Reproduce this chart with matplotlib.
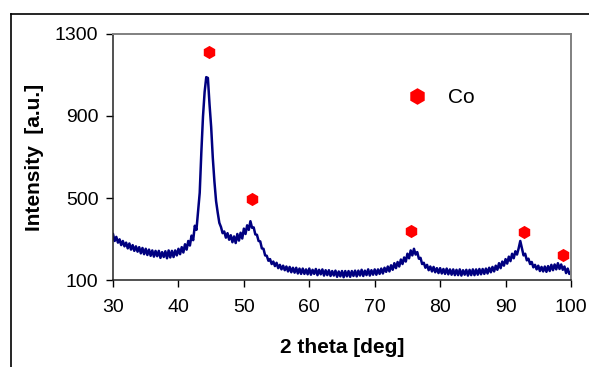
import numpy as np
import matplotlib
matplotlib.use("Agg")
import matplotlib.pyplot as plt
from matplotlib.lines import Line2D

plt.rcParams['font.family'] = ['Liberation Sans', 'DejaVu Sans']

# 2theta from 30 to 100 deg, step 0.25
two_theta_start = 30.0
two_theta_step = 0.25
intensity = [
    325, 292, 312, 284,
    300, 272, 292, 266,
    284, 256, 280, 250,
    272, 244, 266, 240,
    262, 232, 258, 228,
    254, 224, 250, 220,
    246, 216, 244, 218,
    244, 210, 238, 214,
    242, 208, 246, 212,
    244, 214, 246, 222,
    254, 228, 262, 236,
    276, 250, 292, 270,
    318, 296, 366, 346,
    436, 526, 724, 896,
    1016, 1088, 1084, 956,
    846, 696, 580, 486,
    430, 380, 360, 330,
    338, 308, 330, 298,
    320, 286, 314, 282,
    326, 294, 332, 304,
    352, 326, 368, 346,
    388, 356, 358, 324,
    322, 292, 290, 256,
    254, 222, 220, 196,
    204, 180, 192, 170,
    186, 160, 176, 154,
    172, 150, 168, 144,
    166, 140, 162, 138,
    162, 134, 158, 132,
    158, 132, 154, 130,
    158, 128, 152, 132,
    156, 126, 152, 130,
    154, 124, 150, 126,
    150, 122, 146, 124,
    148, 118, 144, 120,
    146, 116, 146, 120,
    146, 118, 146, 122,
    148, 120, 148, 124,
    152, 122, 148, 126,
    154, 124, 150, 128,
    154, 128, 154, 132,
    158, 134, 162, 142,
    168, 144, 174, 152,
    184, 160, 190, 168,
    202, 180, 212, 192,
    230, 208, 246, 222,
    254, 226, 238, 206,
    210, 180, 186, 162,
    176, 150, 168, 144,
    166, 140, 160, 136,
    160, 134, 156, 132,
    158, 130, 154, 128,
    154, 126, 152, 126,
    154, 124, 150, 128,
    152, 124, 152, 126,
    154, 126, 154, 128,
    156, 130, 156, 132,
    158, 134, 162, 140,
    166, 144, 172, 152,
    184, 160, 192, 172,
    204, 182, 216, 194,
    230, 208, 242, 226,
    256, 292, 256, 222,
    230, 198, 206, 180,
    190, 164, 176, 154,
    172, 146, 166, 144,
    168, 142, 170, 146,
    176, 150, 178, 154,
    184, 156, 178, 152,
    168, 136, 158, 132,
    140,
]
two_theta = two_theta_start + two_theta_step * np.arange(len(intensity))

# Co peak markers
co_x = [44.6, 51.3, 75.5, 92.8, 98.8]
co_y = [1210, 495, 340, 335, 225]

x_ticks = [30, 40, 50, 60, 70, 80, 90, 100]
y_ticks = [100, 500, 900, 1300]

fig = plt.figure(figsize=(5.89, 3.67), dpi=100)
ax = fig.add_axes([0.1919, 0.2357, 0.9694 - 0.1919, 0.9087 - 0.2357])

ax.plot(two_theta, intensity, color='#000080', lw=1.8)
ax.plot(co_x, co_y, linestyle='none', marker='h', color='#ff0000',
        markersize=9.5, markeredgewidth=0)

ax.set_xlim(30, 100)
ax.set_ylim(100, 1300)
ax.set_xticks(x_ticks)
ax.set_yticks(y_ticks)
ax.tick_params(axis='both', direction='out', length=5, width=1,
               labelsize=14, colors='black')
ax.tick_params(axis='x', pad=8)
ax.tick_params(axis='y', pad=5.5)

for s in ['left', 'bottom']:
    ax.spines[s].set_color('#222222')
    ax.spines[s].set_linewidth(1.1)
for s in ['top', 'right']:
    ax.spines[s].set_color('#808080')
    ax.spines[s].set_linewidth(1.4)

ax.set_xlabel('2 theta [deg]', fontsize=15, fontweight='bold', labelpad=16)
ax.set_ylabel('Intensity  [a.u.]', fontsize=15, fontweight='bold', labelpad=8)

handle = Line2D([], [], linestyle='none', marker='h', color='#ff0000',
                markersize=12, markeredgewidth=0)
ax.legend([handle], ['Co'], loc='center left', bbox_to_anchor=(0.6, 0.739),
          frameon=False, fontsize=15, handletextpad=0.5, borderaxespad=0)

# figure frame (clipped on right/bottom)
fig.add_artist(Line2D([11/589, 1.0], [1 - 14/367, 1 - 14/367],
                      transform=fig.transFigure, color='black', lw=1.2))
fig.add_artist(Line2D([11/589, 11/589], [0.0, 1 - 14/367],
                      transform=fig.transFigure, color='black', lw=1.2))

fig.savefig('out.png', dpi=100)
